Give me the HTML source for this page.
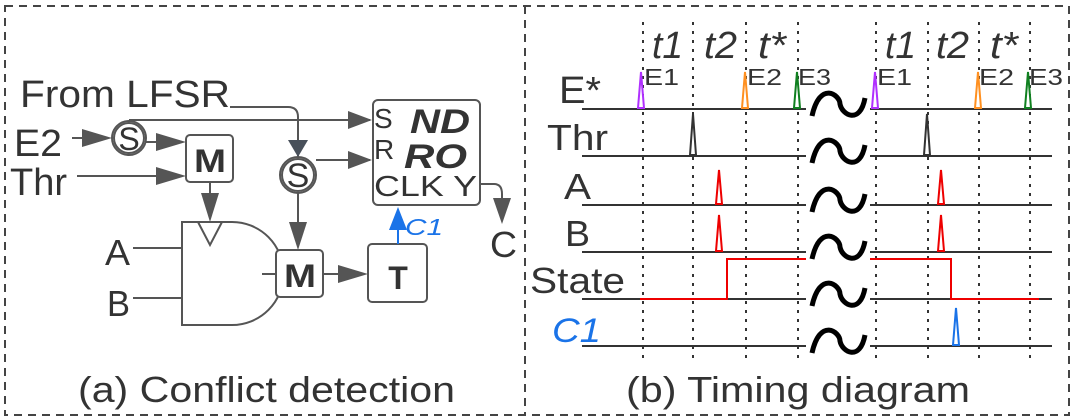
<!DOCTYPE html>
<html><head><meta charset="utf-8"><style>
html,body{margin:0;padding:0;background:#fff;}
svg{display:block;}
text{font-family:"Liberation Sans",sans-serif;fill:#333;}
</style></head><body>
<svg width="1073" height="419" viewBox="0 0 1073 419" xmlns="http://www.w3.org/2000/svg">
<g fill="none" stroke="#444" stroke-width="2" stroke-dasharray="8,6">
<rect x="5" y="6" width="1064" height="409"/>
<line x1="525" y1="6" x2="525" y2="415"/>
</g>
<!-- Left diagram -->
<g stroke="#555" stroke-width="2" fill="none">
<path d="M230,107 H288 Q298,107 298,117 V157"/>
<path d="M298,140 l-10,0 l10,17 l10,-17 z" fill="#48505a" stroke="none"/>
<path d="M129,120 H370"/>
<path d="M348,111 L372,120 L348,129 z" fill="#555" stroke="none"/>
<path d="M316,160 H370"/>
<path d="M348,151 L372,160 L348,169 z" fill="#555" stroke="none"/>
<line x1="72" y1="138" x2="100" y2="138"/>
<path d="M82,129 L112,138 L82,147 z" fill="#555" stroke="none"/>
<line x1="146" y1="142" x2="170" y2="142"/>
<path d="M156,133 L186,142 L156,151 z" fill="#555" stroke="none"/>
<line x1="77" y1="176" x2="170" y2="176"/>
<path d="M156,167 L186,176 L156,185 z" fill="#555" stroke="none"/>
<line x1="210" y1="182" x2="210" y2="205"/>
<path d="M201,193 L210,222 L219,193 z" fill="#555" stroke="none"/>
<circle cx="129" cy="138" r="17" fill="#fff"/>
<circle cx="129" cy="138" r="15"/>
<circle cx="298" cy="175" r="18" fill="#fff"/>
<circle cx="298" cy="175" r="16"/>
<rect x="186" y="135" width="47" height="47" rx="4" fill="#fff"/>
<path d="M182,222 H232 A51,51 0 0 1 232,325 H182 Z" fill="#fff"/>
<path d="M198,222 L210,245 L222,222"/>
<line x1="133" y1="248" x2="182" y2="248"/>
<line x1="133" y1="298" x2="182" y2="298"/>
<line x1="262" y1="274" x2="276" y2="274"/>
<line x1="298" y1="193" x2="298" y2="235"/>
<path d="M289,222 L298,250 L307,222 z" fill="#555" stroke="none"/>
<rect x="276" y="250" width="47" height="47" rx="4" fill="#fff"/>
<line x1="323" y1="274" x2="350" y2="274"/>
<path d="M338,265 L368,274 L338,283 z" fill="#555" stroke="none"/>
<rect x="368" y="244" width="59" height="58" rx="4" fill="#fff"/>
<rect x="373" y="100" width="107" height="105" rx="5" fill="#fff"/>
<path d="M480,184 H494 Q502,184 502,194 V205"/>
<path d="M493,198 L502,224 L511,198 z" fill="#555" stroke="none"/>
</g>
<line x1="398" y1="244" x2="398" y2="230" stroke="#1a73e8" stroke-width="2"/>
<path d="M389,230 L398,207 L407,230 z" fill="#1a73e8"/>
<g lengthAdjust="spacingAndGlyphs">
<text x="20" y="107" font-size="38" textLength="210" lengthAdjust="spacingAndGlyphs">From LFSR</text>
<text x="14" y="156" font-size="38" textLength="48" lengthAdjust="spacingAndGlyphs">E2</text>
<text x="10" y="195" font-size="38" textLength="57" lengthAdjust="spacingAndGlyphs">Thr</text>
<text x="129" y="150" font-size="32" text-anchor="middle">S</text>
<text x="298" y="187" font-size="34" text-anchor="middle">S</text>
<text x="194" y="172" font-size="32" font-weight="bold" textLength="32" lengthAdjust="spacingAndGlyphs">M</text>
<text x="284" y="287" font-size="32" font-weight="bold" textLength="32" lengthAdjust="spacingAndGlyphs">M</text>
<text x="398" y="289" font-size="32" font-weight="bold" text-anchor="middle">T</text>
<text x="105" y="265" font-size="36" textLength="25" lengthAdjust="spacingAndGlyphs">A</text>
<text x="107" y="316" font-size="36" textLength="23" lengthAdjust="spacingAndGlyphs">B</text>
<text x="490" y="257" font-size="36" textLength="27" lengthAdjust="spacingAndGlyphs">C</text>
<text x="405" y="235" font-size="23" font-style="italic" style="fill:#1a73e8" textLength="38" lengthAdjust="spacingAndGlyphs">C1</text>
<text x="374" y="128" font-size="28">S</text>
<text x="374" y="159" font-size="28">R</text>
<text x="374" y="196" font-size="29" textLength="103" lengthAdjust="spacingAndGlyphs">CLK Y</text>
<text x="410" y="133" font-size="34" font-weight="bold" font-style="italic" textLength="60" lengthAdjust="spacingAndGlyphs">ND</text>
<text x="404" y="168" font-size="34" font-weight="bold" font-style="italic" textLength="63" lengthAdjust="spacingAndGlyphs">RO</text>
</g>
<!-- Timing -->
<g stroke="#333" stroke-width="2" stroke-dasharray="3,6">
<line x1="643" y1="22" x2="643" y2="362"/>
<line x1="693" y1="22" x2="693" y2="362"/>
<line x1="746" y1="22" x2="746" y2="362"/>
<line x1="798" y1="22" x2="798" y2="362"/>
<line x1="876" y1="22" x2="876" y2="362"/>
<line x1="928" y1="22" x2="928" y2="362"/>
<line x1="979" y1="22" x2="979" y2="362"/>
<line x1="1030" y1="22" x2="1030" y2="362"/>
</g>
<g stroke="#333" stroke-width="2">
<line x1="582" y1="109" x2="806" y2="109"/><line x1="870" y1="109" x2="1052" y2="109"/>
<line x1="582" y1="156" x2="806" y2="156"/><line x1="870" y1="156" x2="1052" y2="156"/>
<line x1="582" y1="205" x2="806" y2="205"/><line x1="870" y1="205" x2="1052" y2="205"/>
<line x1="582" y1="252" x2="806" y2="252"/><line x1="870" y1="252" x2="1052" y2="252"/>
<line x1="582" y1="299" x2="806" y2="299"/><line x1="870" y1="299" x2="1052" y2="299"/>
<line x1="582" y1="346" x2="806" y2="346"/><line x1="870" y1="346" x2="1052" y2="346"/>
</g>
<g stroke="#000" stroke-width="5" fill="none">
<path d="M812,116 C820,80 840,95 840,104 C842,115 860,125 865,98"/>
<path d="M812,163 C820,127 840,142 840,151 C842,162 860,172 865,145"/>
<path d="M812,212 C820,176 840,191 840,200 C842,211 860,221 865,194"/>
<path d="M812,259 C820,223 840,238 840,247 C842,258 860,268 865,241"/>
<path d="M812,306 C820,270 840,285 840,294 C842,305 860,315 865,288"/>
<path d="M812,353 C820,317 840,332 840,341 C842,352 860,362 865,335"/>
</g>
<g stroke="#e00" stroke-width="2" fill="none">
<polyline points="640,299 727,299 727,259 806,259"/>
<polyline points="870,259 951,259 951,299 1039,299"/>
</g>
<g stroke-width="2" fill="#fff">
<path d="M638,108 L641,72 L644,108 Z" stroke="#b030ff"/>
<path d="M742,108 L745,72 L748,108 Z" stroke="#ff9020"/>
<path d="M794,108 L797,72 L800,108 Z" stroke="#108020"/>
<path d="M872,108 L875,72 L878,108 Z" stroke="#b030ff"/>
<path d="M975,108 L978,72 L981,108 Z" stroke="#ff9020"/>
<path d="M1025,108 L1028,72 L1031,108 Z" stroke="#108020"/>
<path d="M690,155 L693,114 L696,155 Z" stroke="#333"/>
<path d="M924,155 L927,114 L930,155 Z" stroke="#333"/>
<path d="M716,204 L719,170 L722,204 Z" stroke="#e00"/>
<path d="M938,204 L941,170 L944,204 Z" stroke="#e00"/>
<path d="M716,251 L719,215 L722,251 Z" stroke="#e00"/>
<path d="M938,251 L941,215 L944,251 Z" stroke="#e00"/>
<path d="M953,345 L956,308 L959,345 Z" stroke="#1a73e8"/>
</g>
<g font-size="38" font-style="italic">
<text x="652" y="58" textLength="31" lengthAdjust="spacingAndGlyphs">t1</text>
<text x="704" y="58" textLength="33" lengthAdjust="spacingAndGlyphs">t2</text>
<text x="758" y="58" textLength="28" lengthAdjust="spacingAndGlyphs">t*</text>
<text x="885" y="58" textLength="31" lengthAdjust="spacingAndGlyphs">t1</text>
<text x="936" y="58" textLength="33" lengthAdjust="spacingAndGlyphs">t2</text>
<text x="990" y="58" textLength="28" lengthAdjust="spacingAndGlyphs">t*</text>
</g>
<g font-size="23">
<text x="644" y="85" textLength="35" lengthAdjust="spacingAndGlyphs">E1</text>
<text x="747" y="85" textLength="35" lengthAdjust="spacingAndGlyphs">E2</text>
<text x="798" y="85" textLength="33" lengthAdjust="spacingAndGlyphs">E3</text>
<text x="877" y="85" textLength="35" lengthAdjust="spacingAndGlyphs">E1</text>
<text x="979" y="85" textLength="35" lengthAdjust="spacingAndGlyphs">E2</text>
<text x="1029" y="85" textLength="34" lengthAdjust="spacingAndGlyphs">E3</text>
</g>
<text x="559" y="103" font-size="38" textLength="42" lengthAdjust="spacingAndGlyphs">E*</text>
<text x="547" y="150" font-size="36" textLength="61" lengthAdjust="spacingAndGlyphs">Thr</text>
<text x="564" y="199" font-size="36" textLength="27" lengthAdjust="spacingAndGlyphs">A</text>
<text x="565" y="246" font-size="36" textLength="25" lengthAdjust="spacingAndGlyphs">B</text>
<text x="530" y="293" font-size="36" textLength="95" lengthAdjust="spacingAndGlyphs">State</text>
<text x="552" y="342" font-size="34" font-style="italic" style="fill:#1a73e8" textLength="49" lengthAdjust="spacingAndGlyphs">C1</text>
<text x="78" y="402" font-size="36" textLength="377" lengthAdjust="spacingAndGlyphs">(a) Conflict detection</text>
<text x="626" y="402" font-size="36" textLength="344" lengthAdjust="spacingAndGlyphs">(b) Timing diagram</text>
</svg>
</body></html>
